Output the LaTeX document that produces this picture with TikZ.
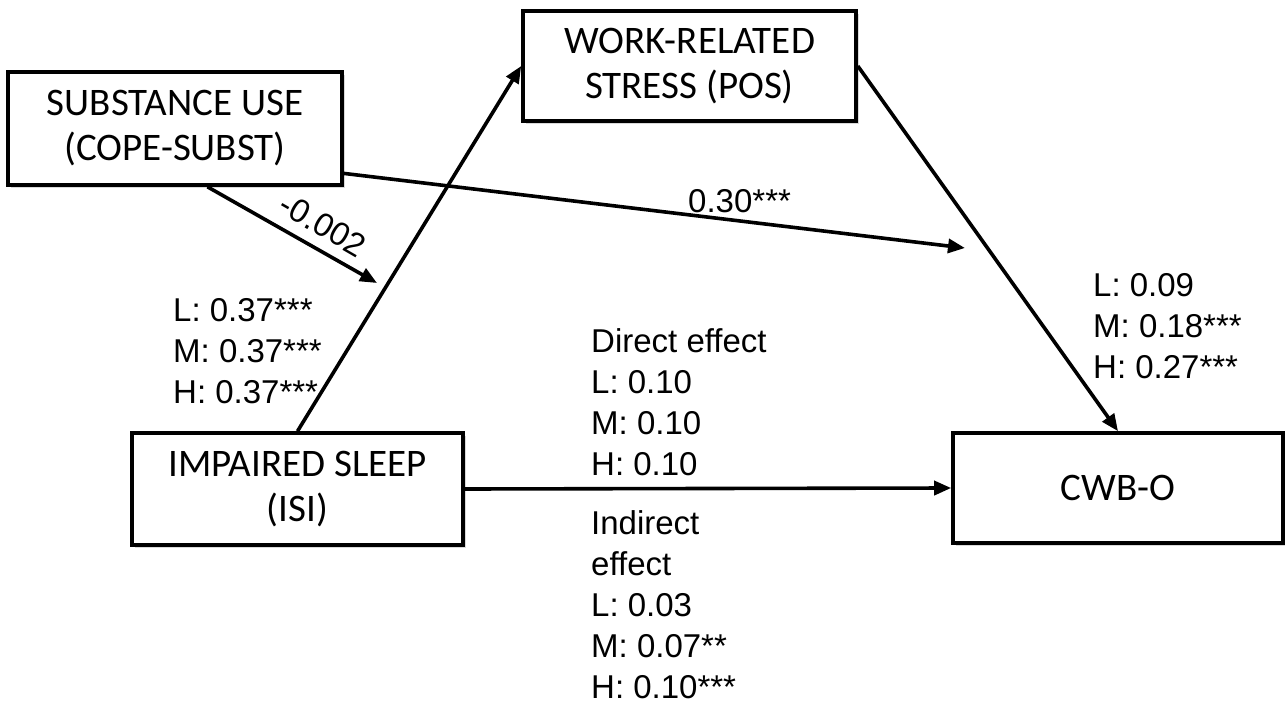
\documentclass[tikz,border=0pt]{standalone}
\usepackage{fontspec}
\newfontfamily\boxfont{Carlito}
\newfontfamily\numfont{Liberation Sans}
\usetikzlibrary{arrows.meta,shadows,calc}
\begin{document}
\begin{tikzpicture}[x=1pt,y=-1pt,
  varbox/.style={draw=black, line width=3.6pt, fill=white, align=center,
    font=\boxfont\fontsize{39}{45}\selectfont, inner sep=0pt,
    drop shadow={opacity=0.3, shadow xshift=3pt, shadow yshift=-3pt}},
  conn/.style={line width=3.6pt, -{Triangle[length=17pt,width=14pt]}},
  lbl/.style={font=\numfont\fontsize{33}{41}\selectfont, inner sep=0pt, align=left, anchor=base west}]
\useasboundingbox (0,0) rectangle (1285,706);
\node[varbox, minimum width=334pt, minimum height=113pt] (subst) at (175,128.5) {SUBSTANCE USE\\(COPE-SUBST)};
\node[varbox, minimum width=333pt, minimum height=110pt] (work) at (689.5,66) {WORK-RELATED\\STRESS (POS)};
\node[varbox, minimum width=331pt, minimum height=112pt] (isi) at (297.5,489) {IMPAIRED SLEEP\\(ISI)};
\node[varbox, minimum width=330pt, minimum height=110pt] (cwb) at (1118,488) {CWB-O};
\coordinate (s1) at (377,283);
\coordinate (s2) at (965,248);
\draw[conn] (isi.north) -- (work.west);
\draw[conn] (work.east) -- (cwb.north);
\draw[conn] (isi.east) -- (cwb.west);
\draw[conn] ($(subst.south west)!0.596!(subst.south east)$) -- (s1);
\draw[conn] ($(subst.north east)!0.885!(subst.south east)$) -- (s2);
\node[font=\numfont\fontsize{33}{41}\selectfont, inner sep=0pt, rotate=-30] (lneg) at (323,225) {-0.002};
\node[lbl] (l030) at (688,212) {0.30***};
\node[lbl] (lisi) at (173,403) {L: 0.37***\\M: 0.37***\\H: 0.37***};
\node[lbl] (lwork) at (1093,378) {L: 0.09\\M: 0.18***\\H: 0.27***};
\node[lbl] (ldir) at (591,475) {Direct effect\\L: 0.10\\M: 0.10\\H: 0.10};
\node[lbl] (lind) at (591,698) {Indirect\\effect\\L: 0.03\\M: 0.07**\\H: 0.10***};
\end{tikzpicture}
\end{document}
